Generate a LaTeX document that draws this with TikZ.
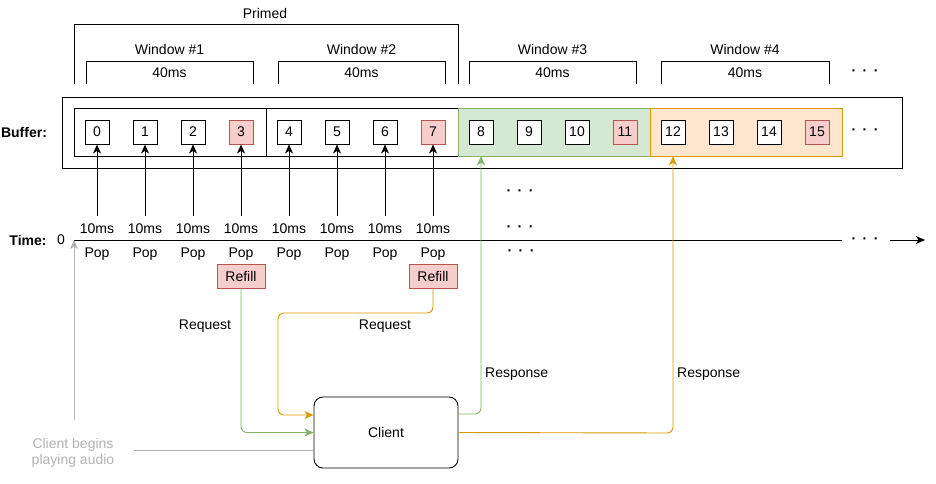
\documentclass[tikz,border=0pt]{standalone}
\usepackage{fontspec}
\setmainfont{Liberation Sans}
\usetikzlibrary{arrows.meta}
\definecolor{gfill}{HTML}{D5E8D4}
\definecolor{gline}{HTML}{82B366}
\definecolor{ofill}{HTML}{FFE6CC}
\definecolor{oline}{HTML}{D79B00}
\definecolor{rfill}{HTML}{F8CECC}
\definecolor{rline}{HTML}{B85450}
\definecolor{greytxt}{HTML}{B3B3B3}
\tikzset{
  txt/.style={inner sep=0pt, text depth=0pt, font=\fontsize{14}{16}\selectfont},
  cell/.style={draw, line width=0.9pt, minimum width=24pt, minimum height=24pt, inner sep=0pt, fill=white, font=\fontsize{14}{16}\selectfont},
  redcell/.style={cell, draw=rline, fill=rfill},
  refillbox/.style={draw=rline, fill=rfill, line width=0.9pt, minimum width=48pt, minimum height=24pt, inner sep=0pt, font=\fontsize{14}{16}\selectfont},
  bracket/.style={line width=0.9pt},
  tip/.style={-{Stealth[length=9pt,width=8pt,inset=2.5pt]}},
  arr/.style={line width=0.9pt, tip},
  conn/.style={line width=0.9pt, rounded corners=6pt},
  ellip/.style={inner sep=0pt, font=\fontsize{14}{16}\selectfont\bfseries},
}
\newcommand{\ellipsistext}{·\hspace{6.5pt}·\hspace{6.5pt}·}
\begin{document}
\begin{tikzpicture}[x=1pt,y=-1pt]
\useasboundingbox (0,0) rectangle (936,483);
% top brackets
\draw[bracket] (74,84) -- (74,24) -- (458,24) -- (458,84);
\node[txt] (primed) at (265,13) {Primed};
\foreach \k/\x/\xe in {1/86/253, 2/278/445, 3/469/636, 4/661/829} {
  \draw[bracket] (\x,84) -- (\x,61) -- (\xe,61) -- (\xe,84);
  \node[txt] (win\k) at ({(\x+\xe)/2},49) {Window \#\k};
  \node[txt] (dur\k) at ({(\x+\xe)/2},73) {40ms};
}
\node[ellip] (dotsA) at (865,73) {\ellipsistext};
% buffer
\node[txt, font=\fontsize{14}{16}\selectfont\bfseries] (buflabel) at (24,132) {Buffer:};
\draw[line width=0.9pt] (62,97) rectangle (902,168);
\draw[line width=0.9pt] (74,108) rectangle (266,156);
\draw[line width=0.9pt] (266,108) rectangle (458,156);
\draw[line width=0.9pt, draw=gline, fill=gfill] (458,108) rectangle (650,156);
\draw[line width=0.9pt, draw=oline, fill=ofill] (650,108) rectangle (842,156);
\node[inner sep=0pt, minimum width=192pt, minimum height=48pt] (win3box) at (554,132) {};
\node[inner sep=0pt, minimum width=192pt, minimum height=48pt] (win4box) at (746,132) {};
\foreach \i in {0,...,15} {
  \pgfmathtruncatemacro\r{mod(\i,4)}
  \ifnum\r=3
    \node[redcell] (c\i) at ({97+48*\i},132) {\i};
  \else
    \node[cell] (c\i) at ({97+48*\i},132) {\i};
  \fi
}
\node[ellip] (dotsB) at (865,132) {\ellipsistext};
% time line
\node[txt, font=\fontsize{14}{16}\selectfont\bfseries] (timelabel) at (28,240) {Time:};
\node[txt] (zero) at (61,240) {0};
\coordinate (tl0) at (74,240);
\coordinate (tl1) at (842,240);
\draw[line width=0.9pt] (tl0) -- (tl1);
\node[ellip] (dotsT) at (865,241) {\ellipsistext};
\coordinate (ta0) at (890,240);
\coordinate (ta1) at (925,240);
\draw[line width=0.9pt, tip] (ta0) -- (ta1);
\foreach \i in {0,...,7} {
  \coordinate (p\i) at ({97+48*\i},216);
  \draw[arr] (p\i) -- (c\i.south);
  \node[txt] (ms\i) at ({97+48*\i},229) {10ms};
  \node[txt] (pop\i) at ({97+48*\i},253) {Pop};
}
\node[ellip] (dots1) at (520,193) {\ellipsistext};
\node[ellip] (dots2) at (520,229) {\ellipsistext};
\node[ellip] (dots3) at (521,253) {\ellipsistext};
% refills
\node[refillbox] (refill1) at (241,276) {Refill};
\node[refillbox] (refill2) at (433,276) {Refill};
% client
\node[draw, line width=0.9pt, rounded corners=9pt, minimum width=144pt, minimum height=71pt, inner sep=0pt, font=\fontsize{14}{16}\selectfont] (client) at (386,432.5) {Client};
% requests
\draw[conn, draw=gline, tip] (refill1.south) |- (client.west);
\draw[conn, draw=oline, tip] (refill2.south) -- (433,313) -- (278,313) -- (278,415) -- (client.west |- 0,415);
\node[txt] (req1) at (205,325) {Request};
\node[txt] (req2) at (385,325) {Request};
% responses
\draw[conn, draw=gline, tip] (client.east |- 0,414) -- (481,414) -- (c8.south |- win3box.south);
\draw[conn, draw=oline, tip] (client.east) -- (673,433) -- (c12.south |- win4box.south);
\node[txt, anchor=west] (resp1) at (485,373) {Response};
\node[txt, anchor=west] (resp2) at (677,373) {Response};
% client begins
\node[txt, text=greytxt, align=center, font=\fontsize{14}{16}\selectfont] (begins) at (73,451) {Client begins\\playing audio};
\coordinate (g0) at (74,420);
\draw[line width=0.9pt, draw=greytxt, tip] (g0) -- (tl0);
\coordinate (g1) at (134,450);
\draw[line width=0.9pt, draw=greytxt] (g1) -- (client.west |- 0,450);
\end{tikzpicture}
\end{document}
